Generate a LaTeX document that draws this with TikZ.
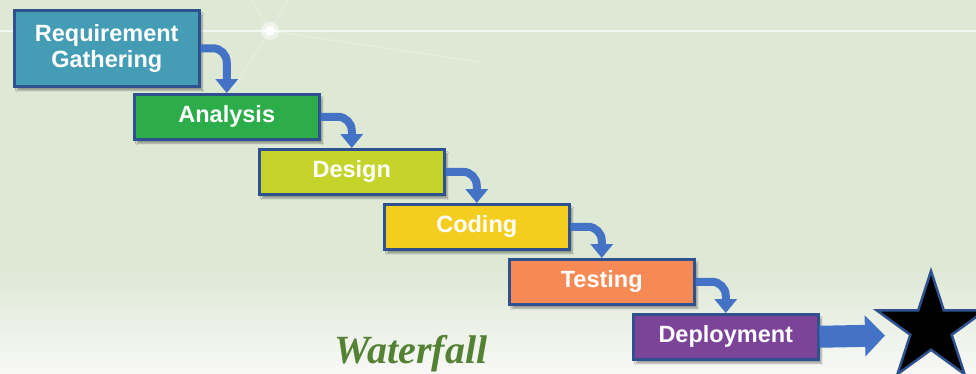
\documentclass[tikz,border=0pt]{standalone}
\usepackage{fontspec}
\setsansfont{Liberation Sans}
\newfontfamily\titlefont{Liberation Serif}
\usetikzlibrary{arrows.meta,shapes.geometric,shadows.blur}

\definecolor{bgtop}{HTML}{DDE8D5}
\definecolor{bgbottom}{HTML}{F8F8F6}
\definecolor{edgeblue}{HTML}{2F528F}
\definecolor{flowblue}{HTML}{4472C4}
\definecolor{reqcol}{HTML}{459DB5}
\definecolor{anacol}{HTML}{2CAD4A}
\definecolor{descol}{HTML}{C4D42B}
\definecolor{codcol}{HTML}{F4CE1F}
\definecolor{tescol}{HTML}{F68A55}
\definecolor{depcol}{HTML}{7C4499}
\definecolor{titlegreen}{HTML}{548235}

\tikzset{
  phase/.style={draw=edgeblue, line width=2.5pt, anchor=north west,
    minimum width=185pt, minimum height=45pt, inner sep=0pt, align=center,
    text=white, font=\sffamily\bfseries\fontsize{23.5}{26.5}\selectfont,
    blur shadow={shadow xshift=3pt, shadow yshift=-4pt, shadow opacity=35}},
  flow/.style={draw=flowblue, line width=8pt, rounded corners=14pt,
    -{Triangle[width=22pt,length=14pt]}},
  bigflow/.style={draw=flowblue, line width=22pt,
    -{Triangle[width=40pt,length=20pt]}}
}

\begin{document}
\begin{tikzpicture}[x=1pt,y=-1pt]
  % backdrop
  \useasboundingbox (0,0) rectangle (976,373);
  \clip (0,0) rectangle (976,373);
  \fill[bgtop] (0,0) rectangle (976,270);
  \shade[top color=bgtop, bottom color=bgbottom] (0,269) rectangle (976,373);
  \draw[white, opacity=.7, line width=2pt] (0,31) -- (976,31);
  \begin{scope}[white, opacity=.25, line width=1.5pt]
    \draw (270,31) -- (252,0);
    \draw (270,31) -- (288,0);
    \draw (270,31) -- (232,90);
    \draw (270,31) -- (480,62);
  \end{scope}
  \fill[white, opacity=.5] (270,31) circle (9);
  \fill[white, opacity=.9] (270,31) circle (5);

  % phases
  \node[phase, fill=reqcol, minimum height=76pt] (req) at (13,9) {Requirement\\Gathering};
  \node[phase, fill=anacol] (ana) at (133,93) {Analysis};
  \node[phase, fill=descol] (des) at (258,148) {Design};
  \node[phase, fill=codcol] (cod) at (383,203) {Coding};
  \node[phase, fill=tescol] (tes) at (508,258) {Testing};
  \node[phase, fill=depcol] (dep) at (632,313) {Deployment};

  \node[star, star points=5, star point ratio=2.618, minimum size=114pt,
    inner sep=0pt, fill=black, draw=edgeblue, line width=2.5pt] (goal) at (931,328) {};
  \coordinate (tip) at (885,335.5);

  \begin{scope}
    \draw[flow] (req.east) -| (ana.north);
    \draw[flow] (ana.east) -| (des.north);
    \draw[flow] (des.east) -| (cod.north);
    \draw[flow] (cod.east) -| (tes.north);
    \draw[flow] (tes.east) -| (dep.north);
    \draw[bigflow] (dep.east) -- (tip);
  \end{scope}

  \node[anchor=base, text=titlegreen, font=\titlefont\bfseries\itshape\fontsize{40}{44}\selectfont]
    (title) at (411,363) {Waterfall};
\end{tikzpicture}
\end{document}
